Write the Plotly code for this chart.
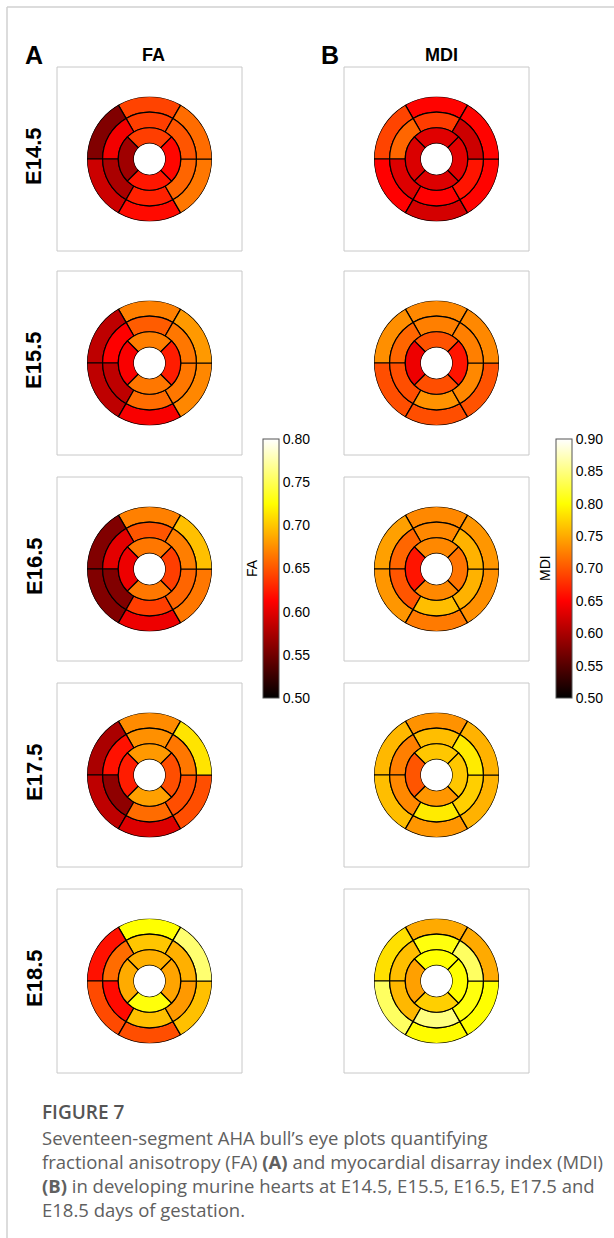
import plotly.graph_objects as go

W, H = 614, 1238

# ---------------- data (AHA segments 1-6 basal, 7-12 mid, 13-16 apical) -------------
stages = ["E14.5", "E15.5", "E16.5", "E17.5", "E18.5"]

fa_e14_5 = [0.642, 0.557, 0.590, 0.617, 0.665, 0.660,
            0.640, 0.607, 0.575, 0.627, 0.657, 0.650,
            0.640, 0.570, 0.622, 0.615]
fa_e15_5 = [0.669, 0.584, 0.584, 0.610, 0.672, 0.680,
            0.653, 0.612, 0.584, 0.660, 0.665, 0.665,
            0.668, 0.610, 0.665, 0.625]
fa_e16_5 = [0.669, 0.557, 0.557, 0.605, 0.665, 0.697,
            0.650, 0.600, 0.557, 0.640, 0.657, 0.668,
            0.665, 0.605, 0.665, 0.640]
fa_e17_5 = [0.674, 0.575, 0.584, 0.597, 0.647, 0.713,
            0.676, 0.620, 0.563, 0.660, 0.647, 0.665,
            0.680, 0.625, 0.683, 0.647]
fa_e18_5 = [0.725, 0.620, 0.645, 0.647, 0.697, 0.758,
            0.700, 0.660, 0.617, 0.697, 0.680, 0.690,
            0.690, 0.688, 0.728, 0.685]

mdi_e14_5 = [0.652, 0.690, 0.650, 0.625, 0.652, 0.652,
             0.685, 0.710, 0.630, 0.650, 0.662, 0.620,
             0.632, 0.628, 0.630, 0.633]
mdi_e15_5 = [0.730, 0.734, 0.696, 0.696, 0.698, 0.730,
             0.725, 0.710, 0.696, 0.736, 0.730, 0.725,
             0.698, 0.640, 0.696, 0.662]
mdi_e16_5 = [0.730, 0.744, 0.738, 0.722, 0.734, 0.738,
             0.730, 0.710, 0.700, 0.762, 0.755, 0.755,
             0.730, 0.662, 0.730, 0.718]
mdi_e17_5 = [0.736, 0.758, 0.762, 0.738, 0.755, 0.755,
             0.762, 0.725, 0.730, 0.788, 0.772, 0.788,
             0.767, 0.700, 0.738, 0.767]
mdi_e18_5 = [0.750, 0.782, 0.838, 0.798, 0.800, 0.750,
             0.805, 0.762, 0.758, 0.850, 0.805, 0.838,
             0.800, 0.744, 0.772, 0.800]

fa_ticks = [0.50, 0.55, 0.60, 0.65, 0.70, 0.75, 0.80]
mdi_ticks = [0.50, 0.55, 0.60, 0.65, 0.70, 0.75, 0.80, 0.85, 0.90]

fa_panels = [fa_e14_5, fa_e15_5, fa_e16_5, fa_e17_5, fa_e18_5]
mdi_panels = [mdi_e14_5, mdi_e15_5, mdi_e16_5, mdi_e17_5, mdi_e18_5]

# ---------------- geometry of the 16 segments (layout, not data) -------------
seg_base = [2] * 6 + [1] * 6 + [0] * 4
seg_theta = [90, 150, 210, 270, 330, 30] * 2 + [90, 180, 270, 0]
seg_width = [60] * 12 + [90] * 4

hot = [[0.0, "#000000"], [0.375, "#ff0000"], [0.75, "#ffff00"], [1.0, "#ffffff"]]

def px(x):
    return x / W

def py(y):
    return 1 - y / H

col_cx = [149.5, 436.5]
row_cy = [159, 363, 569, 775, 981]
R = 62.5
box_w, box_h = 185, 184

fig = go.Figure()
layout_polars = {}
shapes = []
k = 0
for c, (panels, cax) in enumerate([(fa_panels, "coloraxis"), (mdi_panels, "coloraxis2")]):
    for r, vals in enumerate(panels):
        k += 1
        pname = "polar" if k == 1 else f"polar{k}"
        fig.add_trace(go.Barpolar(
            r=[1] * 16, base=seg_base, theta=seg_theta, width=seg_width,
            marker=dict(color=vals, coloraxis=cax,
                        line=dict(color="black", width=1.2)),
            subplot=pname, showlegend=False,
            hovertemplate="%{marker.color:.3f}<extra></extra>",
        ))
        cx, cy = col_cx[c], row_cy[r]
        layout_polars[pname] = dict(
            domain=dict(x=[px(cx - R), px(cx + R)], y=[py(cy + R), py(cy - R)]),
            hole=0.25,
            bgcolor="rgba(0,0,0,0)",
            radialaxis=dict(range=[0, 3], visible=False),
            angularaxis=dict(visible=False, rotation=0, direction="counterclockwise"),
        )
        shapes.append(dict(type="rect", xref="paper", yref="paper",
                           x0=px(cx - box_w / 2), x1=px(cx + box_w / 2),
                           y0=py(cy + box_h / 2), y1=py(cy - box_h / 2),
                           line=dict(color="#c8c8c8", width=1), layer="below"))

# frame lines
shapes.append(dict(type="line", xref="paper", yref="paper", x0=px(7), x1=1,
                   y0=py(7), y1=py(7), line=dict(color="#d0d0d0", width=1.5)))
shapes.append(dict(type="line", xref="paper", yref="paper", x0=px(7), x1=px(7),
                   y0=py(7), y1=0, line=dict(color="#d0d0d0", width=1.5)))

cb_common = dict(
    thickness=16, thicknessmode="pixels", len=259, lenmode="pixels",
    yanchor="middle", y=py(568.5), xanchor="left", xpad=0, ypad=0,
    outlinewidth=1, outlinecolor="#555555", ticks="",
    tickfont=dict(family="Liberation Sans, Arial", size=14, color="black"),
)

layout = dict(
    width=W, height=H,
    margin=dict(l=0, r=0, t=0, b=0),
    paper_bgcolor="white", plot_bgcolor="white",
    shapes=shapes,
    coloraxis=dict(colorscale=hot, cmin=0.5, cmax=0.8,
                   colorbar=dict(x=px(263), tickvals=fa_ticks,
                                 ticktext=[f"{v:.2f}" for v in fa_ticks], **cb_common)),
    coloraxis2=dict(colorscale=hot, cmin=0.5, cmax=0.9,
                    colorbar=dict(x=px(556), tickvals=mdi_ticks,
                                  ticktext=[f"{v:.2f}" for v in mdi_ticks], **cb_common)),
)
layout.update(layout_polars)
fig.update_layout(**layout)

ann = []
bold = dict(family="Liberation Sans, Arial", color="black")
ann.append(dict(text="<b>A</b>", x=px(34), y=py(55), font=dict(size=25, **bold)))
ann.append(dict(text="<b>FA</b>", x=px(153), y=py(55), font=dict(size=18, **bold)))
ann.append(dict(text="<b>B</b>", x=px(330), y=py(55), font=dict(size=25, **bold)))
ann.append(dict(text="<b>MDI</b>", x=px(441), y=py(55), font=dict(size=18, **bold)))
for r, s in enumerate(stages):
    ann.append(dict(text=f"<b>{s}</b>", x=px(34), y=py(row_cy[r] - 3), textangle=-90,
                    font=dict(size=22, **bold)))
ann.append(dict(text="FA", x=px(252), y=py(568), textangle=-90,
                font=dict(family="Liberation Sans, Arial", size=14, color="black")))
ann.append(dict(text="MDI", x=px(545), y=py(568), textangle=-90,
                font=dict(family="Liberation Sans, Arial", size=14, color="black")))

cap_font = dict(family="Open Sans", size=18.5, color="#606060")
ann.append(dict(text="FIGURE 7", x=px(40), y=py(1112), xanchor="left",
                font=dict(family="Open Sans", size=19, color="#555555", weight=600)))
cap_lines = [
    "Seventeen-segment AHA bull\u2019s eye plots quantifying",
    "fractional anisotropy (FA) <b>(A)</b> and myocardial disarray index (MDI)",
    "<b>(B)</b> in developing murine hearts at E14.5, E15.5, E16.5, E17.5 and",
    "E18.5 days of gestation.",
]
for i, t in enumerate(cap_lines):
    ann.append(dict(text=t, x=px(40), y=py(1137 + i * 24), xanchor="left", font=cap_font))

for a in ann:
    a.setdefault("xref", "paper")
    a.setdefault("yref", "paper")
    a.setdefault("showarrow", False)
    a.setdefault("xanchor", "center")
    a.setdefault("yanchor", "middle")
fig.update_layout(annotations=ann)

fig.write_html("out.html", config={"displayModeBar": False},
               post_script="document.body.style.margin='0';document.body.style.overflow='hidden';")
